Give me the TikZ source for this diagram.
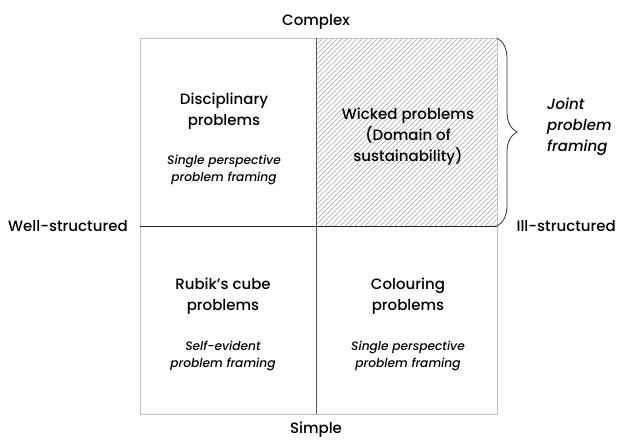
\documentclass[tikz,border=0pt]{standalone}
\usepackage{fontspec}
\setmainfont{Poppins}[UprightFont={* Medium}, ItalicFont={* Medium Italic}]
\usetikzlibrary{decorations.pathreplacing}
\begin{document}
\begin{tikzpicture}[x=1pt,y=-1pt,
  axislabel/.style={font=\fontsize{15}{18}\selectfont, inner sep=0pt},
  quadtitle/.style={align=center, font=\fontsize{15}{21}\selectfont, inner sep=0pt},
  quadnote/.style={align=center, font=\fontsize{12.2}{17}\selectfont\itshape, inner sep=0pt},
  outerbox/.style={draw=black!25, line width=0.8pt},
  hatchline/.style={draw=black!35, line width=0.5pt},
  crossline/.style={draw=black!85, line width=1pt}]
\useasboundingbox (0,0) rectangle (619,440);
\coordinate (tl) at (140,38);
\coordinate (tr) at (497,38);
\coordinate (bl) at (140,414);
\coordinate (br) at (497,414);
\coordinate (mt) at (316,38);
\coordinate (mb) at (316,414);
\coordinate (ml) at (140,226);
\coordinate (mr) at (497,226);
% hatched quadrant
\begin{scope}
  \clip (mt) rectangle (mr);
  \foreach \a in {120,125,...,510} \draw[hatchline] (\a,226) -- (\a+190,36);
\end{scope}
% outer box
\draw[outerbox] (tl) rectangle (br);
% cross lines
\draw[crossline, draw=black!65] (mt) -- (mb);
\draw[crossline] (ml) -- (mr);
% brace
\draw[black!80, line width=0.8pt, decorate,
  decoration={brace, amplitude=20pt, aspect=0.5}] (tr) -- (mr);
% axis labels
\node[axislabel] (complex) at (316,22) {Complex};
\node[axislabel] (simple) at (316,430) {Simple};
\node[axislabel, anchor=west] (well) at (8,226) {Well-structured};
\node[axislabel, anchor=east] (ill) at (616,226) {Ill-structured};
% quadrant texts
\node[quadtitle] (disc) at (224,111) {Disciplinary\\problems};
\node[quadnote] (discnote) at (224,170) {Single perspective\\problem framing};
\node[quadtitle] (wicked) at (408,137) {Wicked problems\\(Domain of\\sustainability)};
\node[quadtitle] (rubik) at (223,296) {Rubik’s cube\\problems};
\node[quadnote] (rubiknote) at (223,356) {Self-evident\\problem framing};
\node[quadtitle] (colour) at (408,296) {Colouring\\problems};
\node[quadnote] (colournote) at (408,356) {Single perspective\\problem framing};
\node[quadnote, align=left, anchor=west, font=\fontsize{15}{21}\selectfont\itshape] (joint) at (547,127) {Joint\\problem\\framing};
\end{tikzpicture}
\end{document}
